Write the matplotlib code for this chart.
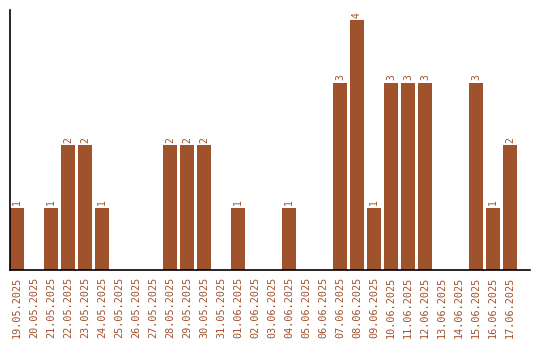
import numpy as np
import matplotlib.pyplot as plt

dates = ['19.05.2025', '20.05.2025', '21.05.2025', '22.05.2025', '23.05.2025',
         '24.05.2025', '25.05.2025', '26.05.2025', '27.05.2025', '28.05.2025',
         '29.05.2025', '30.05.2025', '31.05.2025', '01.06.2025', '02.06.2025',
         '03.06.2025', '04.06.2025', '05.06.2025', '06.06.2025', '07.06.2025',
         '08.06.2025', '09.06.2025', '10.06.2025', '11.06.2025', '12.06.2025',
         '13.06.2025', '14.06.2025', '15.06.2025', '16.06.2025', '17.06.2025']
counts = [1, 0, 1, 2, 2, 1, 0, 0, 0, 2,
          2, 2, 0, 1, 0, 0, 1, 0, 0, 3,
          4, 1, 3, 3, 3, 0, 0, 3, 1, 2]

color = '#A0522D'
plt.rcParams['font.family'] = ['DejaVu Sans Mono']

fig = plt.figure(figsize=(5.4, 3.4), dpi=100)
ax = fig.add_axes([10 / 540, 70 / 340, 520 / 540, 260 / 340])

x = np.arange(len(dates))
ax.bar(x, counts, width=0.82, color=color)

# value labels above non-empty bars
for xi, c in zip(x, counts):
    if c > 0:
        ax.text(xi, c + 0.04, str(c), rotation=90, ha='center', va='bottom',
                fontsize=7, color=color)

ax.set_xlim(-0.41, 30.18)
ax.set_ylim(0, 4.16)
ax.set_xticks(x)
ax.set_xticklabels(dates, rotation=90, fontsize=7.3, color=color)
ax.tick_params(axis='x', length=0, pad=5)
ax.set_yticks([])
ax.spines['top'].set_visible(False)
ax.spines['right'].set_visible(False)
ax.spines['left'].set_linewidth(1.2)
ax.spines['bottom'].set_linewidth(1.2)

fig.savefig('out.png', dpi=100)
